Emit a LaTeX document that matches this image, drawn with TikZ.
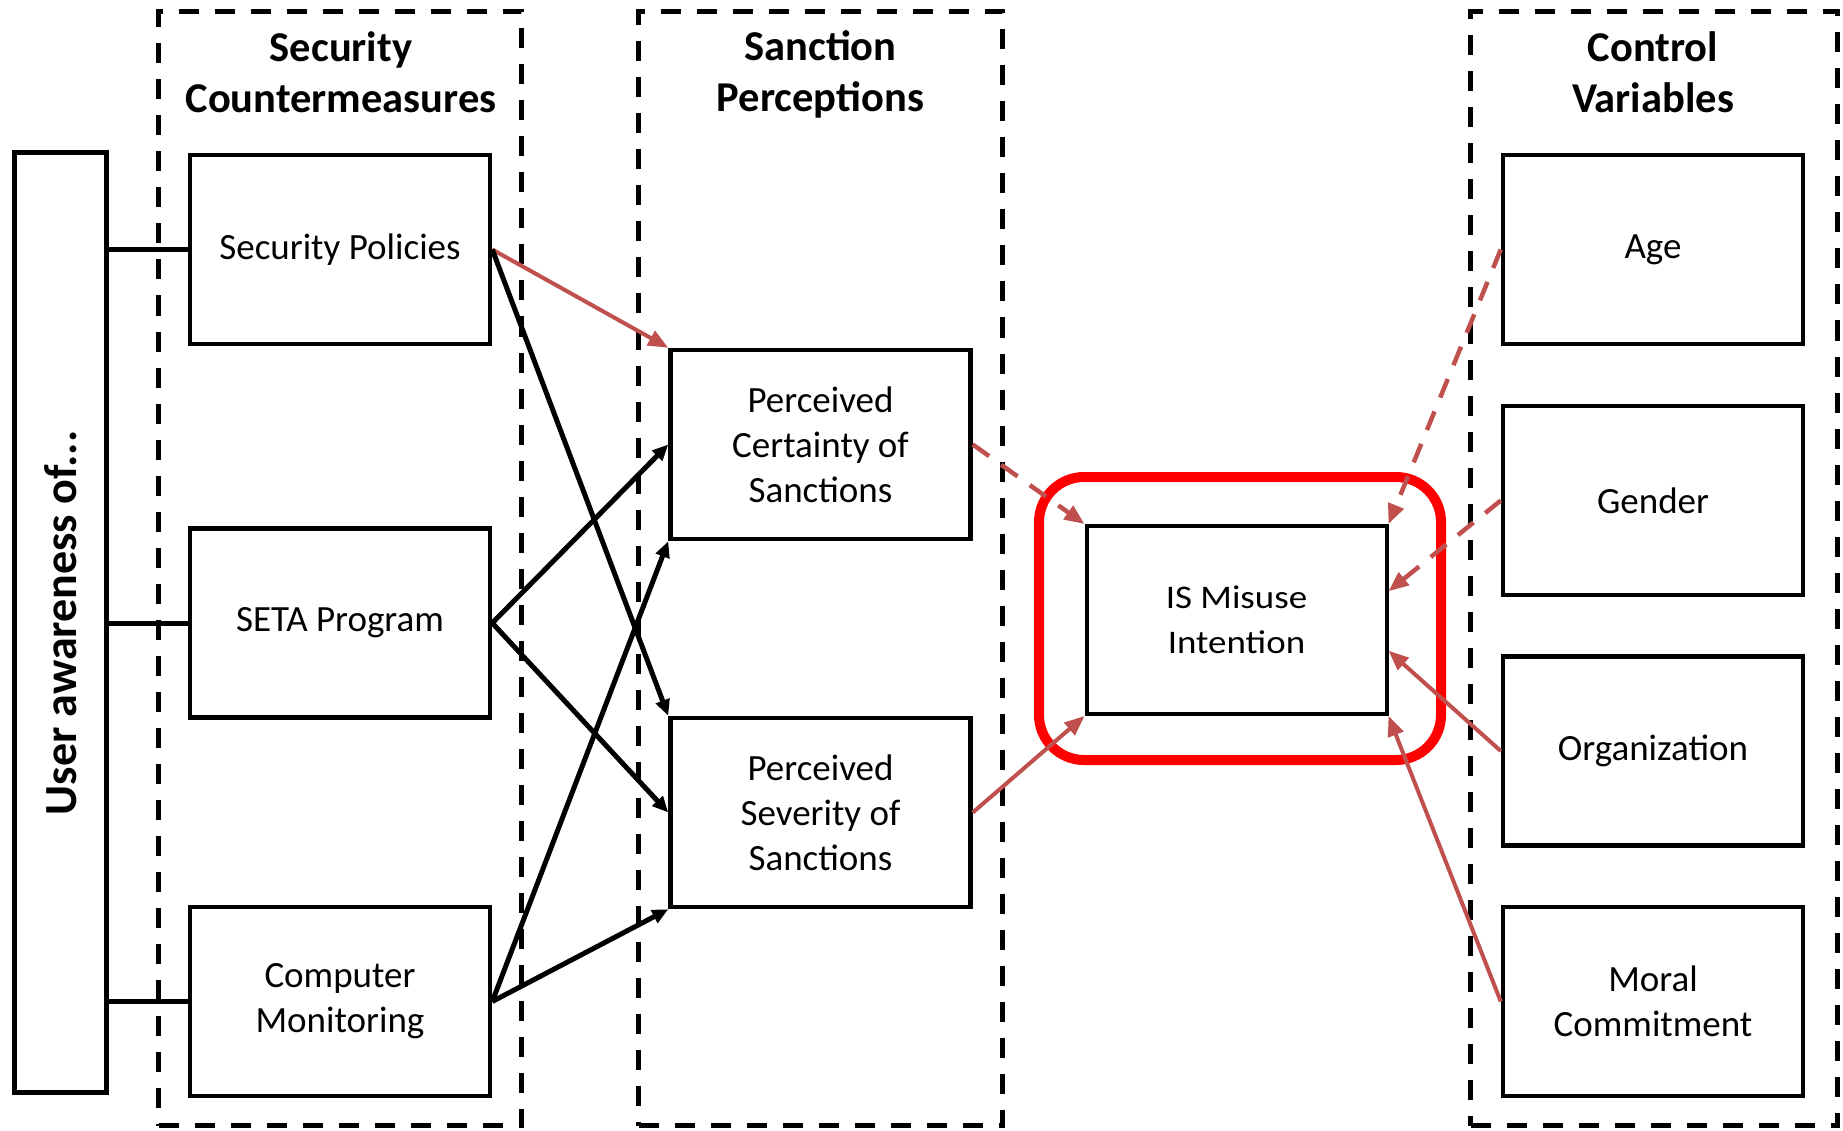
\documentclass[tikz,border=0pt]{standalone}
\usepackage{fontspec}
\setmainfont{Carlito}
\newfontfamily\widefont[FakeStretch=1.12]{Carlito}
\usetikzlibrary{arrows.meta,calc}
\definecolor{redl}{HTML}{C0504D}
\begin{document}
\begin{tikzpicture}[x=1pt,y=-1pt,
  box/.style={draw, line width=4.5pt, minimum width=300pt, minimum height=189pt, inner sep=0pt, align=center, font=\fontsize{37}{45}\selectfont},
  grp/.style={draw, line width=5pt, dash pattern=on 20pt off 16pt, minimum height=1114pt, inner sep=0pt},
  ttl/.style={align=center, font=\fontsize{42.5}{51}\selectfont\bfseries},
  blk/.style={line width=5pt, -{Triangle[length=16pt,width=14pt]}},
  rd/.style={draw=redl, line width=4pt, -{Triangle[length=20pt,width=16pt]}},
  rdd/.style={rd, line width=4.5pt, dash pattern=on 20pt off 15pt},
  ln/.style={line width=5pt}
]
\useasboundingbox (0,0) rectangle (1843,1131);
% groups
\node[grp, minimum width=363pt] (g1) at (340,568.5) {};
\node[grp, minimum width=364pt] (g2) at (820.5,568.5) {};
\node[grp, minimum width=367pt] (g3) at (1654,568.5) {};
\node[ttl] (t1) at (341,72.5) {Security\\Countermeasures};
\node[ttl] (t2) at (820.5,74.5) {Sanction\\Perceptions};
\node[ttl] (t3) at (1653,72.5) {Control\\Variables};
% user awareness
\node[draw, line width=4.5pt, minimum width=92pt, minimum height=940pt, inner sep=0pt] (ua) at (60.5,622.5) {};
\node[rotate=90, font=\fontsize{46}{50}\selectfont\bfseries] (uat) at (61,623) {User awareness of...};
% boxes
\node[box] (sp) at (340,249.5) {Security Policies};
\node[box] (seta) at (340,623) {SETA Program};
\node[box] (cm) at (340,1001.5) {Computer\\Monitoring};
\node[box] (pc) at (820.5,444.5) {Perceived\\Certainty of\\Sanctions};
\node[box] (ps) at (820.5,812.5) {Perceived\\Severity of\\Sanctions};
\node[draw=red, line width=10pt, rounded corners=45pt, minimum width=402pt, minimum height=283pt] (hl) at (1240,618.5) {};
\node[box, line width=4pt, minimum height=188pt, font=\widefont\fontsize{33}{45}\selectfont] (is) at (1236.5,620) {IS Misuse\\Intention};
\node[box] (age) at (1653,249.5) {Age};
\node[box] (gen) at (1653,500.5) {Gender};
\node[box] (org) at (1653,751) {Organization};
\node[box] (mc) at (1653,1001.5) {Moral\\Commitment};
% user awareness links
\draw[ln] (sp.west -| ua.east) -- (sp.west);
\draw[ln] (seta.west -| ua.east) -- (seta.west);
\draw[ln] (cm.west -| ua.east) -- (cm.west);
% countermeasures -> perceptions
\draw[rd] (sp.east) -- (pc.north west);
\draw[blk] (sp.east) -- (ps.north west);
\draw[blk] (seta.east) -- (pc.west);
\draw[blk] (seta.east) -- (ps.west);
\draw[blk] (cm.east) -- (pc.south west);
\draw[blk] (cm.east) -- (ps.south west);
% perceptions -> IS misuse
\draw[rdd] (pc.east) -- (is.north west);
\draw[rd] (ps.east) -- (is.south west);
% controls -> IS misuse
\draw[rdd] (age.west) -- (is.north east);
\draw[rdd] (gen.west) -- ($(is.north east)!0.35!(is.south east)$);
\draw[rd] (org.west) -- ($(is.north east)!0.66!(is.south east)$);
\draw[rd] (mc.west) -- (is.south east);
\end{tikzpicture}
\end{document}
